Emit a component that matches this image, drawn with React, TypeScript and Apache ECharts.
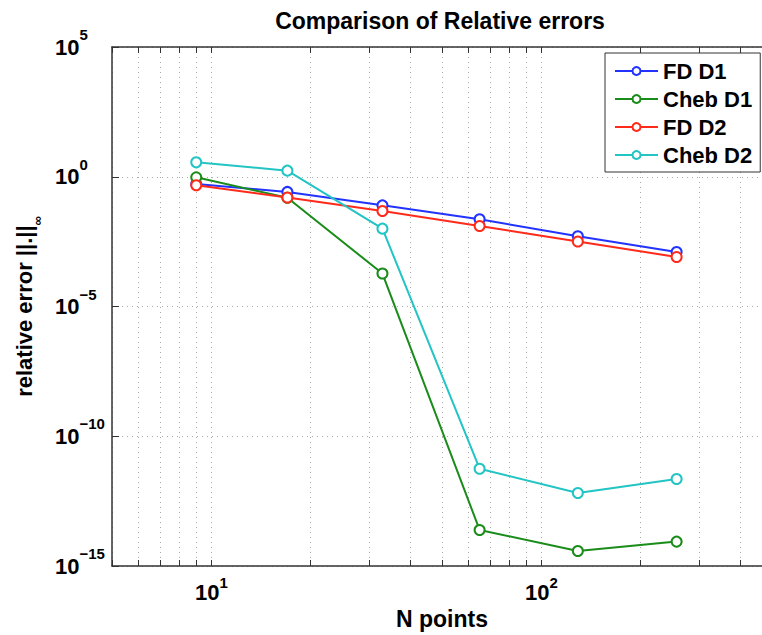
import React, { useEffect, useRef } from 'react';
import * as echarts from 'echarts';

const nPoints = [9, 17, 33, 65, 129, 257];
const fdD1 = [5.2e-1, 2.6e-1, 7.9e-2, 2.3e-2, 5.1e-3, 1.26e-3];
const chebD1 = [9.5e-1, 1.55e-1, 1.86e-4, 2.45e-14, 3.8e-15, 8.7e-15];
const fdD2 = [4.7e-1, 1.58e-1, 4.8e-2, 1.26e-2, 3.2e-3, 8.1e-4];
const chebD2 = [3.6, 1.72, 1.0e-2, 5.6e-12, 6.5e-13, 2.24e-12];

const seriesNames = ['FD D1', 'Cheb D1', 'FD D2', 'Cheb D2'];
const seriesValues = [fdD1, chebD1, fdD2, chebD2];
const seriesColors = ['#2233ff', '#1a8c1a', '#ff2a1a', '#22c4c4'];

const xTickValues = [5, 6, 7, 8, 9, 10, 20, 30, 40, 50, 60, 70, 80, 90, 100, 200, 300, 400, 500];
const yTickValues = [1e-15, 1e-10, 1e-5, 1e0, 1e5];

const FONT = "'Liberation Sans', Arial, Helvetica, sans-serif";
const AXIS_COLOR = '#333';
const GRID_LINE = { color: '#aaa', width: 1, type: [1, 4] as number[] };

function pow10Label(v: number): string {
  const e = Math.log10(v);
  const r = Math.round(e);
  if (Math.abs(e - r) > 1e-6) return '';
  const exp = r < 0 ? '\u2212' + String(-r) : String(r);
  return `{b|10}{s|${exp}}`;
}

export default function App() {
  const ref = useRef<HTMLDivElement>(null);
  useEffect(() => {
    if (!ref.current) return;
    const chart = echarts.init(ref.current, undefined, { renderer: 'svg' });
    const option: any = {
      animation: false,
      backgroundColor: '#fff',
      title: {
        text: 'Comparison of Relative errors',
        left: 440,
        top: 9,
        padding: 0,
        textAlign: 'center',
        textStyle: { fontSize: 23, fontWeight: 'bold', fontFamily: FONT, color: '#000' },
      },
      legend: {
        orient: 'vertical',
        left: 605,
        top: 53,
        padding: [7, 8, 6, 9],
        itemGap: 6,
        itemWidth: 43,
        itemHeight: 10,
        backgroundColor: '#fff',
        borderColor: '#333',
        borderWidth: 1,
        data: seriesNames,
        textStyle: { fontSize: 22, fontWeight: 'bold', fontFamily: FONT, color: '#000', lineHeight: 22 },
      },
      grid: {
        left: 112,
        top: 47,
        right: -10,
        bottom: 69,
        containLabel: false,
        outerBoundsMode: 'none',
      },
      xAxis: [
        {
          type: 'log',
          logBase: 10,
          min: 5,
          max: 500,
          position: 'bottom',
          name: 'N points',
          nameLocation: 'middle',
          nameGap: 38,
          nameTextStyle: { fontSize: 23, fontWeight: 'bold', fontFamily: FONT, color: '#000' },
          axisLine: { show: true, lineStyle: { color: AXIS_COLOR, width: 1.5 } },
          axisTick: { show: true, inside: true, length: 6, customValues: xTickValues, lineStyle: { color: AXIS_COLOR } },
          axisLabel: {
            margin: 9,
            formatter: pow10Label,
            rich: {
              b: { fontSize: 22, fontWeight: 'bold', fontFamily: FONT, color: '#000', lineHeight: 34 },
              s: { fontSize: 15, fontWeight: 'bold', fontFamily: FONT, color: '#000', lineHeight: 14, verticalAlign: 'top' },
            },
          },
          splitLine: { show: true, lineStyle: GRID_LINE },
        },
        {
          type: 'log',
          logBase: 10,
          min: 5,
          max: 500,
          position: 'top',
          axisLine: { show: true, lineStyle: { color: AXIS_COLOR, width: 1.5 } },
          axisTick: { show: true, inside: true, length: 6, customValues: xTickValues, lineStyle: { color: AXIS_COLOR } },
          axisLabel: { show: false },
          splitLine: { show: false },
        },
      ],
      yAxis: {
        type: 'log',
        logBase: 10,
        min: 1e-15,
        max: 1e5,
        interval: 5,
        name: 'relative error ||.||{sub|\u221e}',
        nameLocation: 'middle',
        nameGap: 68,
        nameTextStyle: {
          fontSize: 22,
          fontWeight: 'bold',
          fontFamily: FONT,
          color: '#000',
          lineHeight: 40,
          rich: {
            sub: { fontSize: 13, fontWeight: 'bold', fontFamily: FONT, color: '#000', lineHeight: 12, verticalAlign: 'bottom' },
          },
        },
        axisLine: { show: true, lineStyle: { color: AXIS_COLOR, width: 1.5 } },
        axisTick: { show: true, inside: true, length: 7, customValues: yTickValues, lineStyle: { color: AXIS_COLOR } },
        axisLabel: {
          margin: 57,
          align: 'left',
          customValues: yTickValues,
          formatter: pow10Label,
          rich: {
            b: { fontSize: 22, fontWeight: 'bold', fontFamily: FONT, color: '#000', lineHeight: 40 },
            s: { fontSize: 15, fontWeight: 'bold', fontFamily: FONT, color: '#000', lineHeight: 14, verticalAlign: 'top' },
          },
        },
        splitLine: { show: true, lineStyle: GRID_LINE },
      },
      series: seriesNames.map((name, i) => ({
        name,
        type: 'line',
        xAxisIndex: 0,
        data: nPoints.map((n, j) => [n, seriesValues[i][j]]),
        symbol: 'emptyCircle',
        symbolSize: 10,
        color: seriesColors[i],
        lineStyle: { width: 2, color: seriesColors[i] },
        itemStyle: { color: seriesColors[i], borderColor: seriesColors[i], borderWidth: 1.8 },
        emphasis: { disabled: true },
        z: 3 + i,
      })),
    };
    chart.setOption(option);
    return () => chart.dispose();
  }, []);
  return <div ref={ref} style={{ position: 'fixed', left: 0, top: 0, width: 762, height: 635 }} />;
}
